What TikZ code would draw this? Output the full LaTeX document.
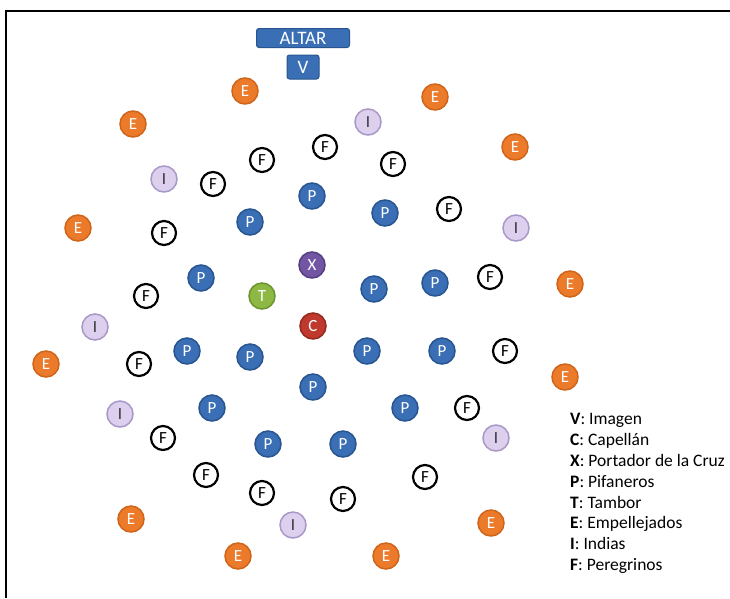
\documentclass[tikz,border=0pt]{standalone}
\usepackage{fontspec}
\setmainfont{Carlito}
\definecolor{eorange}{HTML}{EB7A2A}
\definecolor{eorangeD}{HTML}{D0651A}
\definecolor{ilav}{HTML}{DCD0EE}
\definecolor{ilavD}{HTML}{A898C8}
\definecolor{pblue}{HTML}{3A6FB5}
\definecolor{pblueD}{HTML}{28558F}
\definecolor{tgreen}{HTML}{8DB843}
\definecolor{tgreenD}{HTML}{6E9430}
\definecolor{cred}{HTML}{C0392F}
\definecolor{credD}{HTML}{94291F}
\definecolor{xpurp}{HTML}{7256A3}
\definecolor{xpurpD}{HTML}{563E82}
\tikzset{
  dot/.style={circle, minimum size=26pt, inner sep=0pt, line width=1.5pt, font=\fontsize{17}{17}\selectfont},
  enode/.style={dot, fill=eorange, draw=eorangeD, text=white},
  inode/.style={dot, fill=ilav, draw=ilavD, text=black!80},
  fnode/.style={dot, fill=white, draw=black, line width=2.2pt, minimum size=24pt, text=black},
  pnode/.style={dot, fill=pblue, draw=pblueD, text=white},
  tnode/.style={dot, fill=tgreen, draw=tgreenD, text=white},
  cnode/.style={dot, fill=cred, draw=credD, text=white},
  xnode/.style={dot, fill=xpurp, draw=xpurpD, text=white},
  boxnode/.style={rectangle, rounded corners=2.5pt, fill=pblue, draw=pblueD, line width=1pt, text=white, inner sep=0pt, font=\fontsize{19}{19}\selectfont},
  legend/.style={anchor=base west, inner sep=0pt, font=\fontsize{17.5}{17.5}\selectfont}
}
\begin{document}
\begin{tikzpicture}[x=1pt,y=-1pt]
\useasboundingbox (0,0) rectangle (730,598);
\fill[white] (0,0) rectangle (730,598);
\draw[line width=2pt] (6,598) -- (6,11) -- (730,11);

\node[boxnode, minimum width=93pt, minimum height=19pt] (altar) at (303,38) {ALTAR};
\node[boxnode, minimum width=32pt, minimum height=24pt] (v) at (303,67) {V};

% E
\foreach \n/\x/\y in {e1/245/91, e2/133/124, e3/435/97, e4/515/147, e5/78/228, e6/570/284, e7/46/364, e8/565/377, e9/131/519, e10/491/523, e11/238/556, e12/386/556}
  \node[enode] (\n) at (\x,\y) {E};
% I
\foreach \n/\x/\y in {i1/368/122, i2/164/179, i3/516/228, i4/95/327, i5/120/414, i6/496/438, i7/293/525}
  \node[inode] (\n) at (\x,\y) {I};
% F
\foreach \n/\x/\y in {f1/325/147, f2/262/160, f3/393/164, f4/213/184, f5/449/209, f6/164/233, f7/490/277, f8/146/296, f9/139/364, f10/505/351, f11/467/408, f12/163/438, f13/425/477, f14/206/475, f15/262/493, f16/343/499}
  \node[fnode] (\n) at (\x,\y) {F};
% P
\foreach \n/\x/\y in {p1/312/196, p2/250/222, p3/385/213, p4/201/278, p5/374/289, p6/435/283, p7/187/351, p8/250/357, p9/367/351, p10/442/351, p11/313/387, p12/212/408, p13/405/408, p14/268/444, p15/343/444}
  \node[pnode] (\n) at (\x,\y) {P};

\node[xnode] (x) at (312,265) {X};
\node[tnode] (t) at (262,296) {T};
\node[cnode] (c) at (313,326) {C};

% legend
\node[legend] (l1) at (570,424) {\textbf{V}: Imagen};
\node[legend] (l2) at (570,445) {\textbf{C}: Capellán};
\node[legend] (l3) at (570,466) {\textbf{X}: Portador de la Cruz};
\node[legend] (l4) at (570,487) {\textbf{P}: Pifaneros};
\node[legend] (l5) at (570,508) {\textbf{T}: Tambor};
\node[legend] (l6) at (570,528) {\textbf{E}: Empellejados};
\node[legend] (l7) at (570,549) {\textbf{I}: Indias};
\node[legend] (l8) at (570,570) {\textbf{F}: Peregrinos};
\end{tikzpicture}
\end{document}
